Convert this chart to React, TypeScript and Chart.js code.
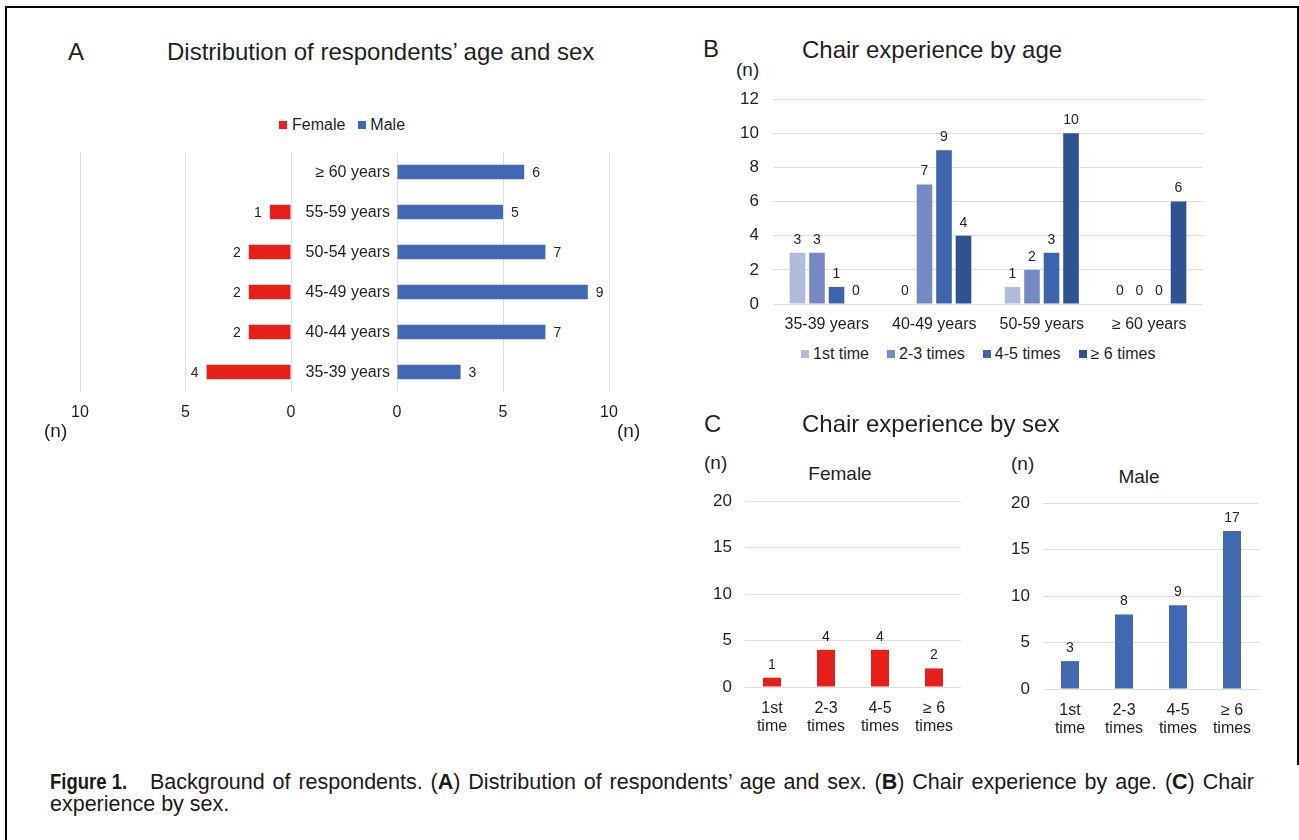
import React, { useEffect, useRef } from "react";
import { Chart, registerables } from "chart.js";

Chart.register(...registerables);

const FONT = "'Liberation Sans', Arial, Helvetica, sans-serif";
const TEXT = "#1f1f1f";
const GRID = "#dedede";
const RED = "#e5201b";
const BLUE = "#4169b2";

Chart.defaults.font.family = FONT;
Chart.defaults.color = TEXT;

// ---------- Panel A: age and sex ----------
const ageGroups = ["≥ 60 years", "55-59 years", "50-54 years", "45-49 years", "40-44 years", "35-39 years"];
const femaleCounts = [0, 1, 2, 2, 2, 4];
const maleCounts = [6, 5, 7, 9, 7, 3];
const sexLegend = ["Female", "Male"];

// ---------- Panel B: chair experience by age ----------
const ageBands = ["35-39 years", "40-49 years", "50-59 years", "≥ 60 years"];
const expLabels = ["1st time", "2-3 times", "4-5 times", "≥ 6 times"];
const exp1st = [3, 0, 1, 0];
const exp2to3 = [3, 7, 2, 0];
const exp4to5 = [1, 9, 3, 0];
const exp6plus = [0, 4, 10, 6];
const expColors = ["#b0bbdc", "#7689c4", "#3e64ad", "#2f5291"];

// ---------- Panel C: chair experience by sex ----------
const expShort = [["1st", "time"], ["2-3", "times"], ["4-5", "times"], ["≥ 6", "times"]];
const femaleExp = [1, 4, 4, 2];
const maleExp = [3, 8, 9, 17];

const valueLabelPlugin = {
  id: "valueLabels",
  afterDatasetsDraw(chart: any, _args: any, opts: any) {
    if (!opts || !opts.mode) return;
    const ctx = chart.ctx;
    ctx.save();
    ctx.font = `${opts.size || 14}px ${FONT}`;
    ctx.fillStyle = TEXT;
    chart.data.datasets.forEach((ds: any, di: number) => {
      const meta = chart.getDatasetMeta(di);
      meta.data.forEach((el: any, i: number) => {
        const v = ds.data[i];
        if (v === null || v === undefined) return;
        if (v === 0 && !opts.showZero) return;
        const x = el.x;
        const y = el.y;
        ctx.textBaseline = "middle";
        if (opts.mode === "top") {
          ctx.textAlign = "center";
          ctx.fillText(String(v), x, y - opts.offset);
        } else if (opts.side === "left") {
          ctx.textAlign = "right";
          ctx.fillText(String(v), x - opts.offset, y + 1);
        } else {
          ctx.textAlign = "left";
          ctx.fillText(String(v), x + opts.offset, y + 1);
        }
      });
    });
    ctx.restore();
  },
};

const baseOptions = {
  responsive: false,
  maintainAspectRatio: false,
  animation: false,
  devicePixelRatio: 1,
  events: [],
};

// fix an axis' size and drop the automatic label padding so the plot area is exactly where intended
const fixSize = (w: number | null, h: number | null) => (s: any) => {
  if (w !== null) s.width = w;
  if (h !== null) s.height = h;
  s.paddingTop = 0;
  s.paddingBottom = 0;
  s.paddingLeft = 0;
  s.paddingRight = 0;
};

function ChartCanvas(props: { make: () => any; left: number; top: number; width: number; height: number }) {
  const ref = useRef<HTMLCanvasElement | null>(null);
  useEffect(() => {
    const chart = new Chart(ref.current as HTMLCanvasElement, props.make());
    return () => chart.destroy();
  }, []);
  return (
    <canvas
      ref={ref}
      width={props.width}
      height={props.height}
      style={{ position: "absolute", left: props.left, top: props.top, width: props.width, height: props.height }}
    />
  );
}

function femaleAgeConfig() {
  return {
    type: "bar",
    data: {
      labels: ageGroups,
      datasets: [{ label: "Female", data: femaleCounts, backgroundColor: RED, categoryPercentage: 1, barPercentage: 0.36 }],
    },
    options: {
      ...baseOptions,
      indexAxis: "y",
      layout: { padding: { left: 20, right: 19, top: 0, bottom: 0 } },
      scales: {
        x: {
          type: "linear",
          reverse: true,
          min: 0,
          max: 10,
          ticks: { stepSize: 5, font: { size: 16 }, color: TEXT, padding: 11 },
          grid: { color: GRID, drawTicks: false },
          border: { display: false },
          afterFit: fixSize(null, 32),
        },
        y: { display: false, afterFit: fixSize(0, null) },
      },
      plugins: {
        legend: { display: false },
        tooltip: { enabled: false },
        valueLabels: { mode: "h", side: "left", offset: 8, size: 14, showZero: false },
      },
    },
    plugins: [valueLabelPlugin],
  };
}

function maleAgeConfig() {
  return {
    type: "bar",
    data: {
      labels: ageGroups,
      datasets: [{ label: "Male", data: maleCounts, backgroundColor: BLUE, categoryPercentage: 1, barPercentage: 0.36 }],
    },
    options: {
      ...baseOptions,
      indexAxis: "y",
      layout: { padding: { left: 0, right: 21, top: 0, bottom: 0 } },
      scales: {
        x: {
          type: "linear",
          min: 0,
          max: 10,
          ticks: { stepSize: 5, font: { size: 16 }, color: TEXT, padding: 11 },
          grid: { color: GRID, drawTicks: false },
          border: { display: false },
          afterFit: fixSize(null, 32),
        },
        y: {
          ticks: { font: { size: 16 }, color: TEXT, padding: 7, labelOffset: 1 },
          grid: { display: false, drawTicks: false },
          border: { display: false },
          afterFit: fixSize(107, null),
        },
      },
      plugins: {
        legend: { display: false },
        tooltip: { enabled: false },
        valueLabels: { mode: "h", side: "right", offset: 8, size: 14, showZero: false },
      },
    },
    plugins: [valueLabelPlugin],
  };
}

function byAgeConfig() {
  const series = [exp1st, exp2to3, exp4to5, exp6plus];
  return {
    type: "bar",
    data: {
      labels: ageBands,
      datasets: series.map((d, i) => ({
        label: expLabels[i],
        data: d,
        backgroundColor: expColors[i],
        categoryPercentage: 0.726,
        barPercentage: 0.8,
      })),
    },
    options: {
      ...baseOptions,
      layout: { padding: { left: 0, right: 0, top: 15, bottom: 0 } },
      scales: {
        x: {
          ticks: { font: { size: 16 }, color: TEXT, padding: 11 },
          grid: { display: false, drawTicks: false },
          border: { display: false },
          afterFit: fixSize(null, 32),
        },
        y: {
          min: 0,
          max: 12,
          ticks: { stepSize: 2, font: { size: 17 }, color: TEXT, padding: 14 },
          grid: { color: GRID, drawTicks: false },
          border: { display: false },
          afterFit: fixSize(48, null),
        },
      },
      plugins: {
        legend: { display: false },
        tooltip: { enabled: false },
        valueLabels: { mode: "top", offset: 13, size: 14, showZero: true },
      },
    },
    plugins: [valueLabelPlugin],
  };
}

function bySexConfig(title: string, values: number[], color: string) {
  return {
    type: "bar",
    data: {
      labels: expShort,
      datasets: [{ label: title, data: values, backgroundColor: color, categoryPercentage: 0.8, barPercentage: 0.417 }],
    },
    options: {
      ...baseOptions,
      layout: { padding: { left: 0, right: 0, top: 10, bottom: 0 } },
      scales: {
        x: {
          ticks: { font: { size: 16, lineHeight: 1.15 }, color: TEXT, padding: 12 },
          grid: { display: false, drawTicks: false },
          border: { display: false },
          afterFit: fixSize(null, 52),
        },
        y: {
          min: 0,
          max: 20,
          ticks: { stepSize: 5, font: { size: 17 }, color: TEXT, padding: 13 },
          grid: { color: GRID, drawTicks: false },
          border: { display: false },
          afterFit: fixSize(45, null),
        },
      },
      plugins: {
        legend: { display: false },
        tooltip: { enabled: false },
        valueLabels: { mode: "top", offset: 13, size: 14, showZero: true },
      },
    },
    plugins: [valueLabelPlugin],
  };
}

const abs = (left: number, top: number, extra: any = {}) => ({ position: "absolute" as const, left, top, whiteSpace: "nowrap" as const, ...extra });

function Swatch({ color }: { color: string }) {
  return <span style={{ display: "inline-block", width: 8, height: 8, background: color }} />;
}

export default function App() {
  return (
    <div
      style={{
        position: "fixed",
        left: 0,
        top: 0,
        width: 1299,
        height: 840,
        background: "#fff",
        overflow: "hidden",
        fontFamily: FONT,
        color: TEXT,
      }}
    >
      {/* frame */}
      <div style={{ position: "absolute", left: 5, top: 6, width: 1294, height: 2, background: "#000" }} />
      <div style={{ position: "absolute", left: 5, top: 6, width: 2, height: 834, background: "#000" }} />
      <div style={{ position: "absolute", left: 1297, top: 6, width: 2, height: 759, background: "#000" }} />

      {/* Panel A */}
      <div style={abs(68, 40, { fontSize: 24, lineHeight: "24px" })}>A</div>
      <div style={abs(167, 40, { fontSize: 24, lineHeight: "24px" })}>Distribution of respondents’ age and sex</div>
      <div style={abs(279, 117, { fontSize: 16, lineHeight: "16px", display: "flex", alignItems: "center" })}>
        <Swatch color={RED} />
        <span style={{ marginLeft: 5, marginRight: 13 }}>{sexLegend[0]}</span>
        <Swatch color={BLUE} />
        <span style={{ marginLeft: 4 }}>{sexLegend[1]}</span>
      </div>
      <ChartCanvas make={femaleAgeConfig} left={60} top={152} width={250} height={272} />
      <ChartCanvas make={maleAgeConfig} left={290} top={152} width={340} height={272} />
      <div style={abs(44, 421, { fontSize: 19, lineHeight: "19px" })}>(n)</div>
      <div style={abs(617, 421, { fontSize: 19, lineHeight: "19px" })}>(n)</div>

      {/* Panel B */}
      <div style={abs(703, 37, { fontSize: 24, lineHeight: "24px" })}>B</div>
      <div style={abs(802, 38, { fontSize: 24, lineHeight: "24px" })}>Chair experience by age</div>
      <div style={abs(736, 60, { fontSize: 19, lineHeight: "19px" })}>(n)</div>
      <ChartCanvas make={byAgeConfig} left={725} top={84} width={478} height={252} />
      <div style={abs(801, 346, { fontSize: 16, lineHeight: "16px", display: "flex", alignItems: "center" })}>
        {expLabels.map((l, i) => (
          <React.Fragment key={l}>
            <Swatch color={expColors[i]} />
            <span style={{ marginLeft: 4, marginRight: i < expLabels.length - 1 ? 18 : 0 }}>{l}</span>
          </React.Fragment>
        ))}
      </div>

      {/* Panel C */}
      <div style={abs(704, 412, { fontSize: 24, lineHeight: "24px" })}>C</div>
      <div style={abs(802, 412, { fontSize: 24, lineHeight: "24px" })}>Chair experience by sex</div>
      <div style={abs(704, 453, { fontSize: 19, lineHeight: "19px" })}>(n)</div>
      <div style={abs(1011, 454, { fontSize: 19, lineHeight: "19px" })}>(n)</div>
      <div style={abs(790, 464, { fontSize: 19, lineHeight: "19px", width: 100, textAlign: "center" })}>Female</div>
      <div style={abs(1089, 467, { fontSize: 19, lineHeight: "19px", width: 100, textAlign: "center" })}>Male</div>
      <ChartCanvas make={() => bySexConfig("Female", femaleExp, RED)} left={700} top={491} width={261} height={248} />
      <ChartCanvas make={() => bySexConfig("Male", maleExp, BLUE)} left={998} top={493} width={261} height={248} />

      {/* Caption */}
      <div
        style={{
          position: "absolute",
          left: 50,
          top: 771,
          width: 1204,
          fontSize: 21.5,
          lineHeight: "22px",
          textAlign: "justify",
          color: "#1a1a1a",
        }}
      >
        <span style={{ display: "inline-block", width: 100 }}>
          <span
            style={{
              display: "inline-block",
              fontWeight: "bold",
              transform: "scaleX(0.86)",
              transformOrigin: "left center",
            }}
          >
            Figure 1.
          </span>
        </span>
        Background of respondents. (<b>A</b>) Distribution of respondents’ age and sex. (<b>B</b>) Chair experience by
        age. (<b>C</b>) Chair experience by sex.
      </div>
    </div>
  );
}
